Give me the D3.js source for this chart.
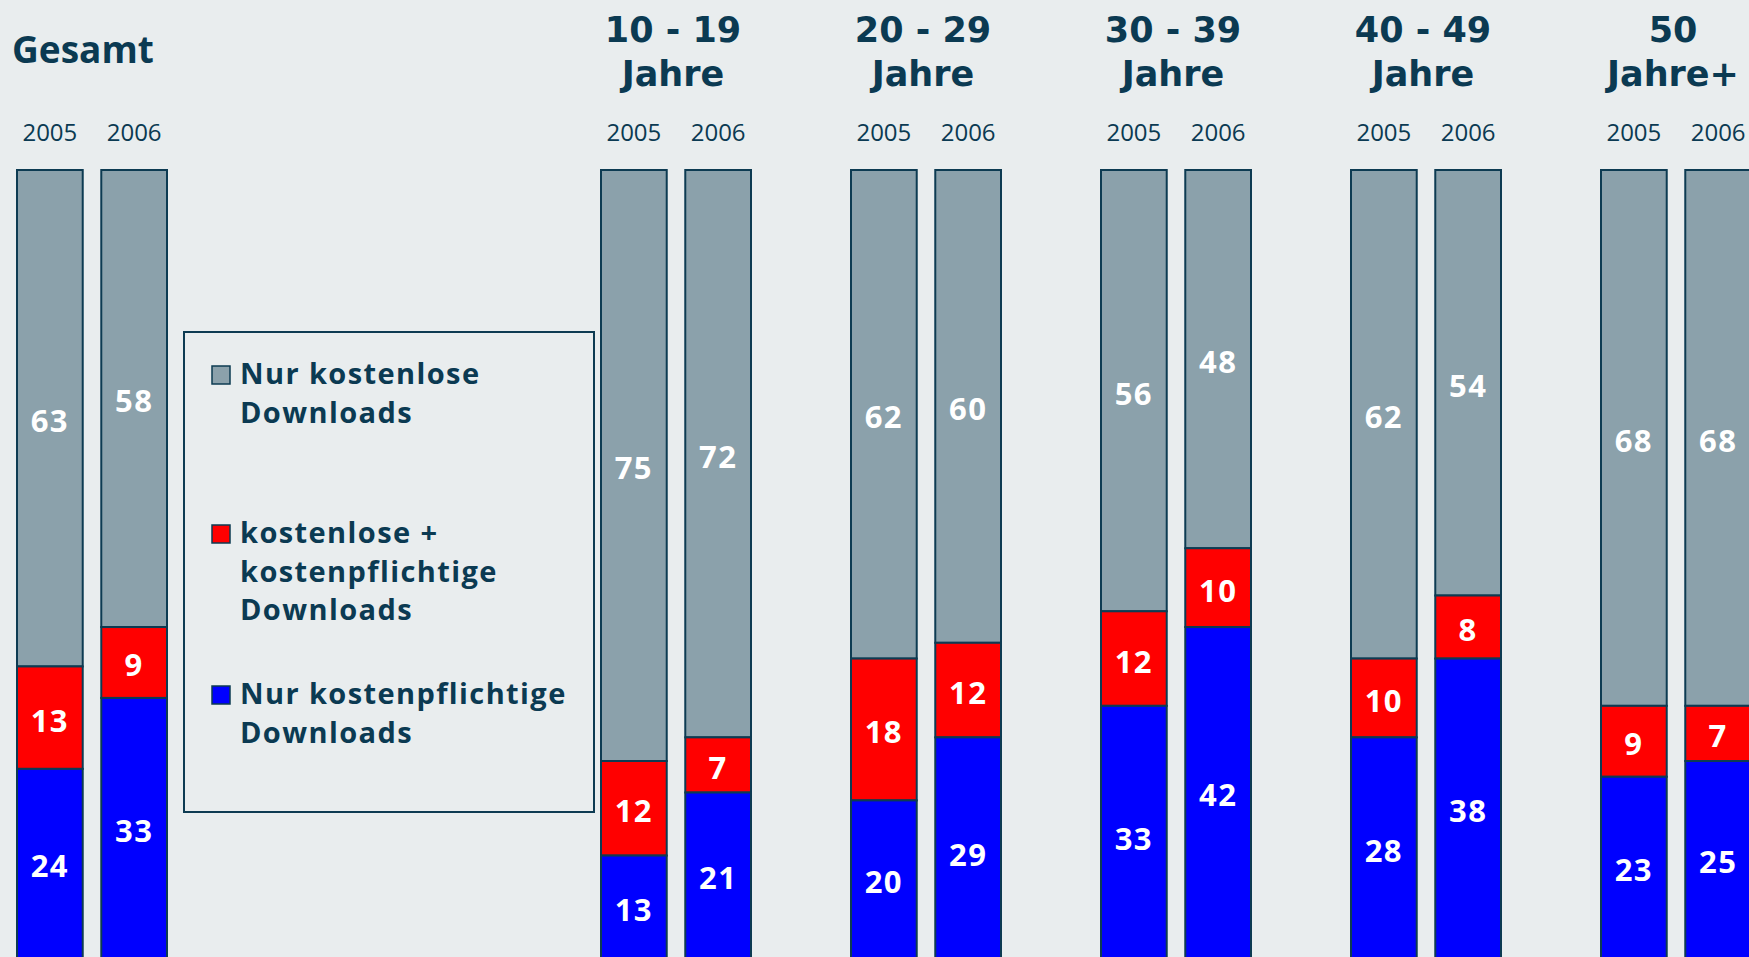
<!DOCTYPE html>
<html>
<head>
<meta charset="utf-8">
<script src="https://cdn.jsdelivr.net/npm/d3@7"></script>
<style>
    body { margin: 0; background: #e9edee; }
    svg { display: block; }
    text { font-family: "Open Sans", "DejaVu Sans", sans-serif; fill: #0b3a52; }
</style>
</head>
<body>
<div id="chart"></div>
<script>
(function () {
    "use strict";

    // Daten (Prozent)
    var groups = ["Gesamt", "10 - 19", "20 - 29", "30 - 39", "40 - 49", "50+"];
    var groupTitles = [["Gesamt"], ["10 - 19", "Jahre"], ["20 - 29", "Jahre"], ["30 - 39", "Jahre"], ["40 - 49", "Jahre"], ["50", "Jahre+"]];
    var years = ["2005", "2006"];
    var seriesKeys = ["free", "both", "paid"];
    var seriesLabels = [["Nur kostenlose", "Downloads"], ["kostenlose +", "kostenpflichtige", "Downloads"], ["Nur kostenpflichtige", "Downloads"]];
    var seriesColors = ["#8ba1ab", "#ff0000", "#0000ff"];

    var free2005 = [63, 75, 62, 56, 62, 68];
    var free2006 = [58, 72, 60, 48, 54, 68];
    var both2005 = [13, 12, 18, 12, 10, 9];
    var both2006 = [9, 7, 12, 10, 8, 7];
    var paid2005 = [24, 13, 20, 33, 28, 23];
    var paid2006 = [33, 21, 29, 42, 38, 25];

    var width = 1749, height = 957;
    var strokeColor = "#0d3b52";

    var rows = [];
    groups.forEach(function (g, i) {
        rows.push({ group: g, year: "2005", free: free2005[i], both: both2005[i], paid: paid2005[i] });
        rows.push({ group: g, year: "2006", free: free2006[i], both: both2006[i], paid: paid2006[i] });
    });

    var svg = d3.select("#chart").append("svg")
        .attr("width", width)
        .attr("height", height);

    svg.append("rect")
        .attr("width", width)
        .attr("height", height)
        .attr("fill", "#e9edee");

    // x: Gesamt links, Altersgruppen rechts der Legende
    var xTotal = d3.scaleBand().domain(groups.slice(0, 1)).range([17, 267]);
    var xAge = d3.scaleBand().domain(groups.slice(1)).range([601, 1851]);
    function groupX(g) {
        return g === groups[0] ? xTotal(g) : xAge(g);
    }
    var xYear = d3.scaleBand().domain(years).range([0, 150]).paddingInner(0.22);

    var y = d3.scaleLinear().domain([0, 100]).range([170, 958]);

    var color = d3.scaleOrdinal().domain(seriesKeys).range(seriesColors);

    var stack = d3.stack().keys(seriesKeys);
    var stacked = stack(rows);

    var layer = svg.selectAll(".layer")
        .data(stacked)
        .enter()
        .append("g")
        .attr("class", "layer")
        .attr("fill", function (d) { return color(d.key); });

    layer.selectAll("rect")
        .data(function (d) { return d; })
        .enter()
        .append("rect")
        .attr("x", function (d) { return groupX(d.data.group) + xYear(d.data.year); })
        .attr("y", function (d) { return y(d[0]); })
        .attr("width", xYear.bandwidth())
        .attr("height", function (d) { return y(d[1]) - y(d[0]); })
        .attr("stroke", strokeColor)
        .attr("stroke-width", 2);

    // Werte in den Segmenten
    layer.selectAll("text")
        .data(function (d) { return d; })
        .enter()
        .append("text")
        .attr("x", function (d) { return groupX(d.data.group) + xYear(d.data.year) + xYear.bandwidth() / 2; })
        .attr("y", function (d) { return (y(d[0]) + y(d[1])) / 2; })
        .attr("dy", "0.45em")
        .attr("text-anchor", "middle")
        .style("fill", "#ffffff")
        .style("font-weight", "bold")
        .style("font-size", "31px")
        .style("letter-spacing", "1.5px")
        .text(function (d) { return d[1] - d[0]; });

    // Jahreszahlen
    groups.forEach(function (g) {
        years.forEach(function (yr) {
            svg.append("text")
                .attr("x", groupX(g) + xYear(yr) + xYear.bandwidth() / 2)
                .attr("y", 141)
                .attr("text-anchor", "middle")
                .style("font-size", "24px")
                .text(yr);
        });
    });

    // Gruppentitel
    groups.forEach(function (g, i) {
        var lines = groupTitles[i];
        if (i === 0) {
            svg.append("text")
                .attr("x", 12)
                .attr("y", 63)
                .style("font-size", "37px")
                .style("font-weight", "bold")
                .text(lines[0]);
            return;
        }
        var cx = groupX(g) + xYear.range()[1] / 2 - 3;
        var title = svg.append("text")
            .attr("text-anchor", "middle")
            .style("font-family", "'DejaVu Sans', sans-serif")
            .style("font-size", "35px")
            .style("font-weight", "bold");
        lines.forEach(function (line, j) {
            title.append("tspan")
                .attr("x", cx)
                .attr("y", 42 + j * 43.5)
                .text(line);
        });
    });

    // Legende
    var legend = svg.append("g").attr("class", "legend");
    legend.append("rect")
        .attr("x", 184)
        .attr("y", 332)
        .attr("width", 410)
        .attr("height", 480)
        .attr("fill", "none")
        .attr("stroke", strokeColor)
        .attr("stroke-width", 2);

    var legendTops = [384, 543, 704];
    var legendItem = legend.selectAll(".legend-item")
        .data(seriesKeys)
        .enter()
        .append("g")
        .attr("class", "legend-item")
        .attr("transform", function (d, i) { return "translate(212," + legendTops[i] + ")"; });

    legendItem.append("rect")
        .attr("x", 0)
        .attr("y", -18)
        .attr("width", 18)
        .attr("height", 18)
        .attr("fill", color)
        .attr("stroke", strokeColor)
        .attr("stroke-width", 1.5);

    legendItem.each(function (d, i) {
        var t = d3.select(this).append("text")
            .style("font-size", "29px")
            .style("font-weight", "bold")
            .style("letter-spacing", "1.4px");
        seriesLabels[i].forEach(function (line, j) {
            t.append("tspan")
                .attr("x", 28)
                .attr("y", j * 38.5)
                .text(line);
        });
    });
})();
</script>
</body>
</html>
